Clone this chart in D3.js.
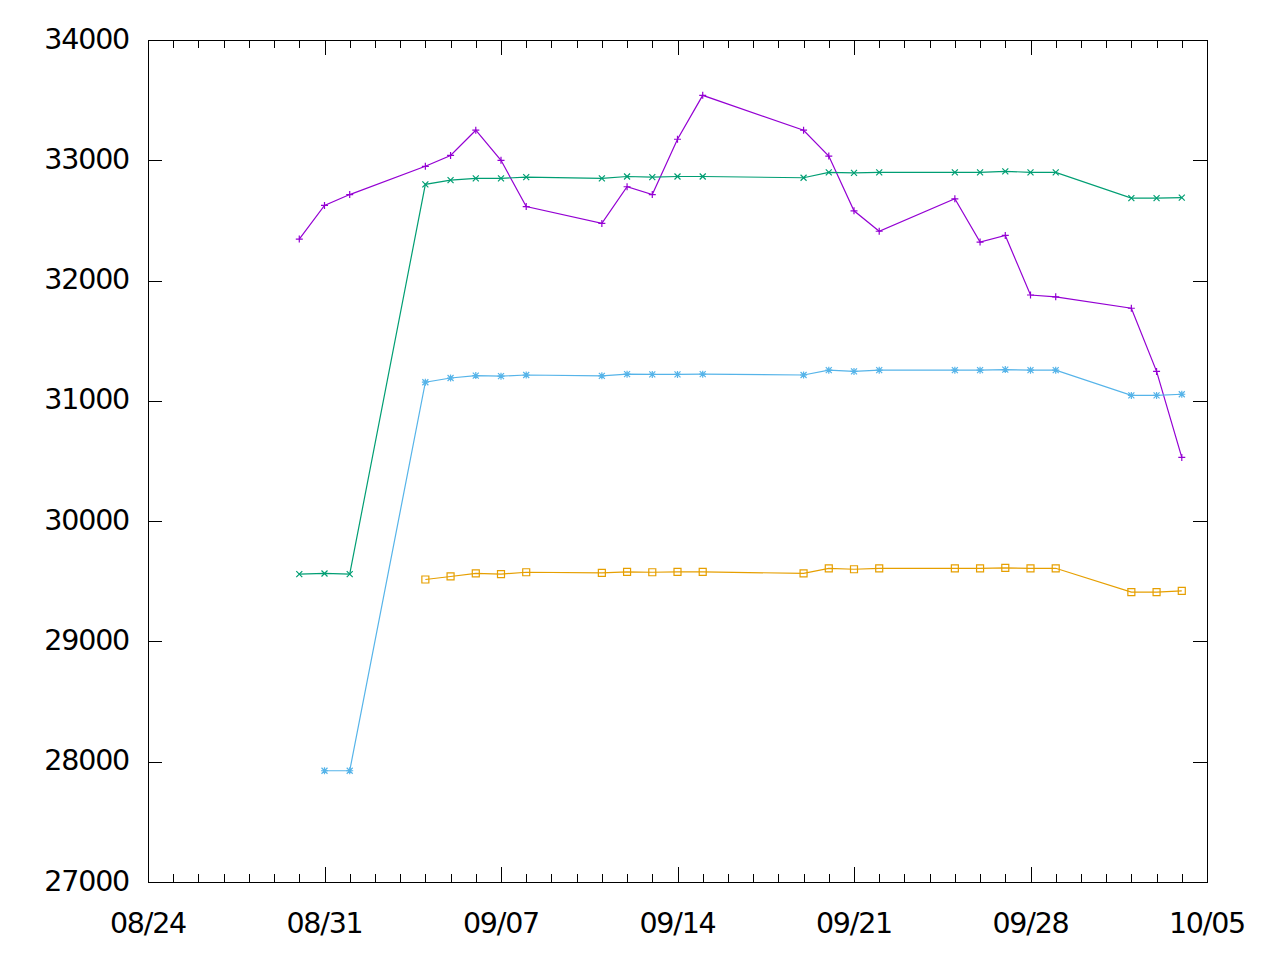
<!DOCTYPE html>
<html><head><meta charset="utf-8">
<script src="https://cdn.jsdelivr.net/npm/d3@7"></script>
<style>body{margin:0;background:#fff}svg{display:block}text{font-family:"DejaVu Sans",Verdana,sans-serif}</style>
</head><body><div id="chart"></div>
<script>
const dates = ["08/30","08/31","09/01","09/04","09/05","09/06","09/07","09/08","09/11","09/12","09/13","09/14","09/15","09/19","09/20","09/21","09/22","09/25","09/26","09/27","09/28","09/29","10/02","10/03","10/04"];
const purple = [32345,32625,32715,32950,33040,33250,33000,32615,32475,32780,32715,33175,33540,33250,33035,32580,32410,32680,32320,32375,31880,31865,31770,31245,30530];
const green  = [29560,29565,29560,32800,32835,32850,32850,32860,32850,32865,32860,32865,32865,32855,32900,32895,32900,32900,32900,32908,32900,32900,32685,32685,32690];
const blue   = [null,27925,27925,31155,31190,31210,31205,31215,31208,31222,31220,31220,31222,31215,31255,31245,31255,31255,31255,31260,31255,31255,31045,31045,31055];
const orange = [null,null,null,29515,29540,29565,29560,29575,29570,29578,29575,29578,29578,29566,29608,29600,29608,29608,29608,29611,29608,29608,29410,29410,29420];
const yTicks = [27000,28000,29000,30000,31000,32000,33000,34000];
const xTickLabels = ["08/24","08/31","09/07","09/14","09/21","09/28","10/05"];
const xDomain = ["08/24","10/05"];
const YEAR = 2021;

const parse = s => { const [m,d] = s.split("/").map(Number); return new Date(Date.UTC(YEAR, m-1, d)); };
const W = 1280, H = 960;
const L = 148, R = 1207, T = 40, B = 882;
const FS = 28.5, LS = -1.2;
const svg = d3.select("#chart").append("svg").attr("width", W).attr("height", H);
const x = d3.scaleUtc().domain(xDomain.map(parse)).range([L, R]);
const y = d3.scaleLinear().domain([27000, 34000]).range([B, T]);

const g = svg.append("g");
// y ticks (left & right, inward)
yTicks.forEach(v => {
  const yy = Math.round(y(v)) + 0.5;
  g.append("line").attr("x1", L).attr("x2", L + 14).attr("y1", yy).attr("y2", yy).attr("stroke", "#000");
  g.append("line").attr("x1", R - 14).attr("x2", R).attr("y1", yy).attr("y2", yy).attr("stroke", "#000");
  g.append("text").attr("x", L - 19).attr("y", y(v)).attr("dy", "0.3em").attr("text-anchor", "end")
    .attr("font-size", FS).attr("letter-spacing", LS).text(v);
});
// x ticks: minor every day, major on labels
const allDays = d3.utcDay.range(parse(xDomain[0]), d3.utcDay.offset(parse(xDomain[1]), 1));
const majorSet = new Set(xTickLabels.map(s => +parse(s)));
allDays.forEach(d => {
  const xx = Math.round(x(d)) + 0.5;
  const len = majorSet.has(+d) ? 15 : 8;
  g.append("line").attr("x1", xx).attr("x2", xx).attr("y1", B).attr("y2", B - len).attr("stroke", "#000");
  g.append("line").attr("x1", xx).attr("x2", xx).attr("y1", T).attr("y2", T + len).attr("stroke", "#000");
});
xTickLabels.forEach(s => {
  g.append("text").attr("x", x(parse(s))).attr("y", 933).attr("text-anchor", "middle")
    .attr("font-size", FS).attr("letter-spacing", LS).text(s);
});
// border
g.append("rect").attr("x", L + 0.5).attr("y", T + 0.5).attr("width", R - L).attr("height", B - T)
  .attr("fill", "none").attr("stroke", "#000");

const series = [
  {vals: purple, color: "#9400d3", sym: "plus"},
  {vals: green, color: "#009e73", sym: "cross"},
  {vals: blue, color: "#56b4e9", sym: "star"},
  {vals: orange, color: "#e69f00", sym: "square"}
];
const symPath = {
  plus: "M-3.5,0H3.5M0,-3.5V3.5",
  cross: "M-3,-3L3,3M-3,3L3,-3",
  star: "M-3.5,0H3.5M0,-3.5V3.5M-3,-3L3,3M-3,3L3,-3",
  square: "M-3.5,-3.5H3.5V3.5H-3.5Z"
};
series.forEach(s => {
  const pts = dates.map((d, i) => ({d: parse(d), v: s.vals[i]})).filter(p => p.v != null);
  const line = d3.line().x(p => x(p.d)).y(p => y(p.v));
  svg.append("path").datum(pts).attr("d", line).attr("fill", "none").attr("stroke", s.color).attr("stroke-width", 1.2);
  svg.append("g").selectAll("path").data(pts).join("path")
    .attr("transform", p => `translate(${x(p.d)},${y(p.v)})`)
    .attr("d", symPath[s.sym]).attr("fill", "none").attr("stroke", s.color).attr("stroke-width", 1.2);
});
</script></body></html>
